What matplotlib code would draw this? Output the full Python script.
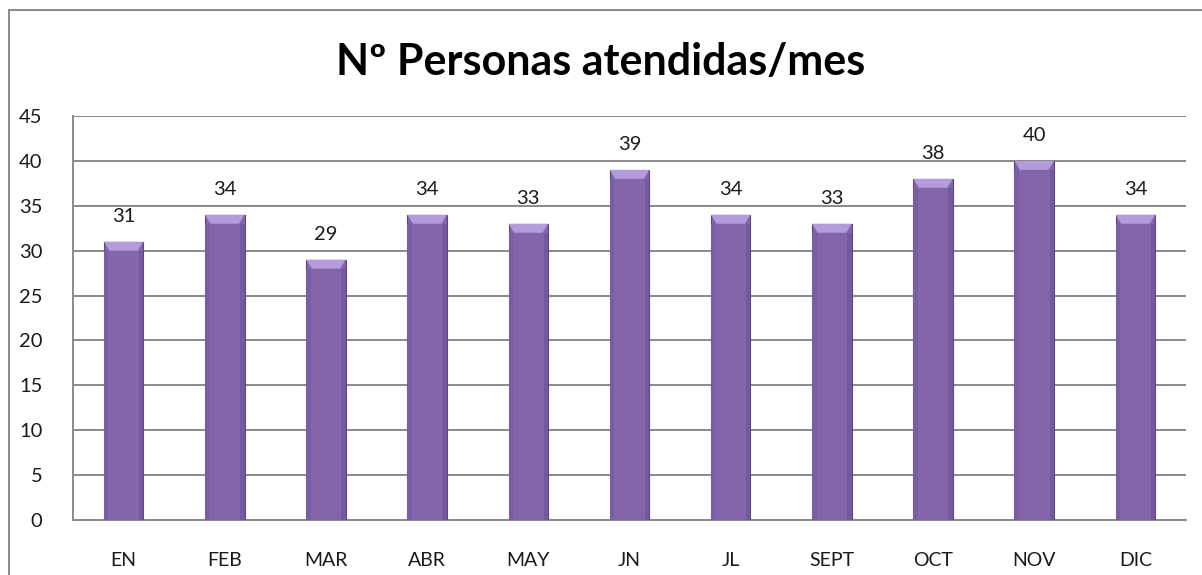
import matplotlib
matplotlib.use("Agg")
import matplotlib.pyplot as plt
from matplotlib.patches import Polygon, Rectangle

months = ["EN", "FEB", "MAR", "ABR", "MAY", "JN", "JL", "SEPT", "OCT", "NOV", "DIC"]
values = [31, 34, 29, 34, 33, 39, 34, 33, 38, 40, 34]
yticks = [0, 5, 10, 15, 20, 25, 30, 35, 40, 45]
title = "Nº Personas atendidas/mes"

plt.rcParams['font.family'] = ['Lato', 'DejaVu Sans']

fig = plt.figure(figsize=(12.02, 5.75), dpi=100)
ax = fig.add_axes([73/1202, 55/575, (1186-73)/1202, (520-116)/575])

bar_color = "#8366AA"
bars = ax.bar(range(len(months)), values, width=0.39, color=bar_color,
              edgecolor="#5E4680", linewidth=0.8, zorder=3)

# top bevel highlight
for b in bars:
    x0, w, h = b.get_x(), b.get_width(), b.get_height()
    inset = w * 0.14
    bh = 1.0
    poly = Polygon([[x0, h], [x0 + w, h], [x0 + w - inset, h - bh], [x0 + inset, h - bh]],
                   closed=True, facecolor="#B39BDC", edgecolor="none", zorder=4)
    ax.add_patch(poly)
    ax.add_patch(Rectangle((x0 + w - inset * 0.8, 0), inset * 0.8, h - bh,
                           facecolor="#7359A0", edgecolor="none", zorder=4))
    ax.add_patch(Rectangle((x0, 0), inset * 0.8, h - bh,
                           facecolor="#7A5EA5", edgecolor="none", zorder=4))

for i, v in enumerate(values):
    ax.annotate(str(v), (i, v), xytext=(0, 12), textcoords="offset points",
                ha="center", va="bottom", fontsize=14.5, color="#1a1a1a", zorder=5)

ax.set_xlim(-0.5, len(months) - 0.5)
ax.set_ylim(0, 45)
ax.set_yticks(yticks)
ax.set_yticklabels([str(t) for t in yticks])
ax.set_xticks(range(len(months)))
ax.set_xticklabels(months)
ax.tick_params(axis="y", length=0, pad=22, labelsize=14.5, labelcolor="#1a1a1a")
ax.tick_params(axis="x", length=0, pad=23, labelsize=14, labelcolor="#1a1a1a")
ax.yaxis.grid(True, color="#8a8a8a", linewidth=1.4, zorder=0)
ax.set_axisbelow(True)
for s in ["top", "right"]:
    ax.spines[s].set_visible(False)
for s in ["left", "bottom"]:
    ax.spines[s].set_color("#8a8a8a")
    ax.spines[s].set_linewidth(1.4)

fig.text(0.5, 1 - 62/575, title, ha="center", va="center",
         fontsize=31, fontweight="bold", color="#000000")

# outer chart border
fig.patches.append(Rectangle((9/1202, -0.05), 1.1, 1 - 10/575 + 0.05,
                             transform=fig.transFigure, fill=False,
                             edgecolor="#8a8a8a", linewidth=1.4))

fig.savefig("out.png", dpi=100)
